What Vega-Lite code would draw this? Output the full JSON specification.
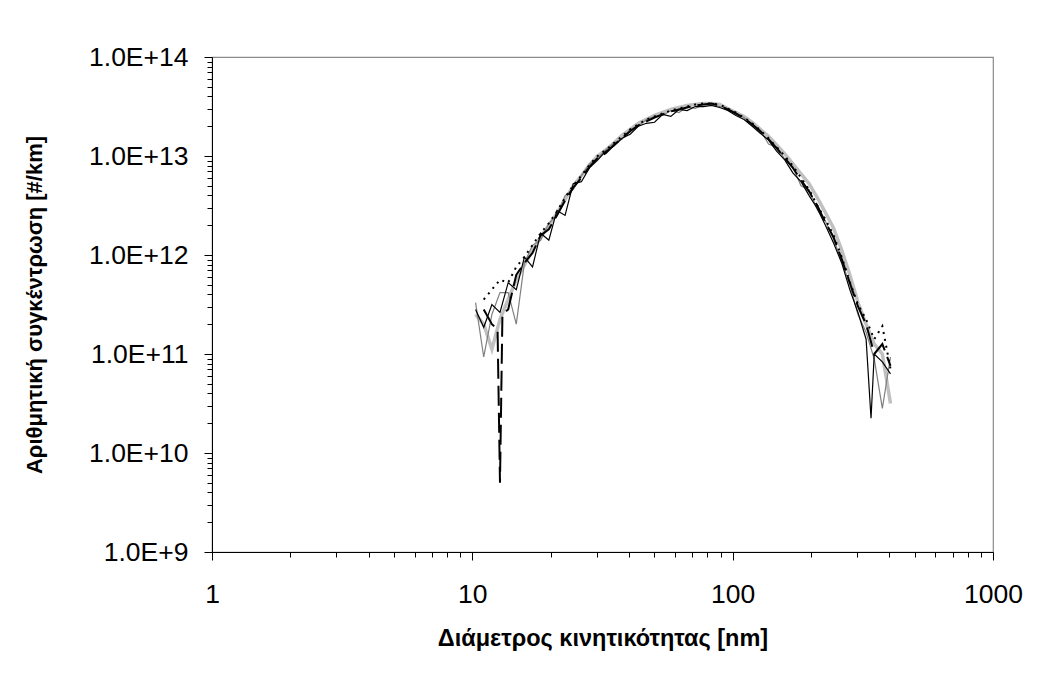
{
  "$schema": "https://vega.github.io/schema/vega-lite/v6.json",
  "width": 781,
  "height": 495,
  "autosize": {"type": "none"},
  "padding": {"left": 212, "top": 57, "right": 45, "bottom": 125},
  "background": "white",
  "data": {"values": [
    {"s":"A","d":10.29,"n":2.82e11},{"s":"A","d":11.06,"n":1.86e11},{"s":"A","d":11.89,"n":3.16e11},{"s":"A","d":12.77,"n":2.63e11},{"s":"A","d":13.73,"n":5.25e11},{"s":"A","d":14.75,"n":4.47e11},{"s":"A","d":15.85,"n":9.55e11},{"s":"A","d":17.03,"n":7.59e11},{"s":"A","d":18.30,"n":1.66e12},{"s":"A","d":19.67,"n":1.41e12},{"s":"A","d":21.13,"n":2.82e12},{"s":"A","d":22.71,"n":2.51e12},{"s":"A","d":24.41,"n":5.25e12},{"s":"A","d":26.23,"n":5.50e12},{"s":"A","d":28.18,"n":7.59e12},{"s":"A","d":30.29,"n":9.12e12},{"s":"A","d":32.55,"n":1.12e13},{"s":"A","d":34.98,"n":1.26e13},{"s":"A","d":37.58,"n":1.51e13},{"s":"A","d":40.39,"n":1.66e13},{"s":"A","d":43.40,"n":2.00e13},{"s":"A","d":46.64,"n":2.14e13},{"s":"A","d":50.12,"n":2.19e13},{"s":"A","d":53.86,"n":2.63e13},{"s":"A","d":57.88,"n":2.51e13},{"s":"A","d":62.20,"n":2.95e13},{"s":"A","d":66.83,"n":2.88e13},{"s":"A","d":71.82,"n":3.16e13},{"s":"A","d":77.18,"n":3.16e13},{"s":"A","d":82.94,"n":3.24e13},{"s":"A","d":89.13,"n":3.09e13},{"s":"A","d":95.78,"n":2.88e13},{"s":"A","d":102.9,"n":2.57e13},{"s":"A","d":110.6,"n":2.34e13},{"s":"A","d":118.9,"n":2.00e13},{"s":"A","d":127.7,"n":1.70e13},{"s":"A","d":137.3,"n":1.45e13},{"s":"A","d":147.5,"n":1.12e13},{"s":"A","d":158.5,"n":9.12e12},{"s":"A","d":170.3,"n":6.76e12},{"s":"A","d":183.0,"n":5.50e12},{"s":"A","d":196.7,"n":3.98e12},{"s":"A","d":211.3,"n":2.95e12},{"s":"A","d":227.1,"n":2.00e12},{"s":"A","d":244.1,"n":1.32e12},{"s":"A","d":262.3,"n":8.32e11},{"s":"A","d":281.8,"n":4.47e11},{"s":"A","d":302.9,"n":2.63e11},{"s":"A","d":325.5,"n":1.41e11},{"s":"A","d":340.0,"n":2.24e10},{"s":"A","d":349.8,"n":1.00e11},{"s":"A","d":375.8,"n":8.32e10},{"s":"A","d":403.9,"n":6.31e10},
    {"s":"B","d":10.29,"n":3.31e11},{"s":"B","d":11.06,"n":9.33e10},{"s":"B","d":11.89,"n":2.51e11},{"s":"B","d":12.77,"n":4.17e11},{"s":"B","d":13.73,"n":4.17e11},{"s":"B","d":14.75,"n":2.00e11},{"s":"B","d":15.85,"n":8.32e11},{"s":"B","d":17.03,"n":1.26e12},{"s":"B","d":18.30,"n":1.41e12},{"s":"B","d":19.67,"n":2.09e12},{"s":"B","d":21.13,"n":2.51e12},{"s":"B","d":22.71,"n":3.98e12},{"s":"B","d":24.41,"n":4.57e12},{"s":"B","d":26.23,"n":6.31e12},{"s":"B","d":28.18,"n":8.32e12},{"s":"B","d":30.29,"n":9.55e12},{"s":"B","d":32.55,"n":1.15e13},{"s":"B","d":34.98,"n":1.35e13},{"s":"B","d":37.58,"n":1.48e13},{"s":"B","d":40.39,"n":1.86e13},{"s":"B","d":43.40,"n":2.00e13},{"s":"B","d":46.64,"n":2.34e13},{"s":"B","d":50.12,"n":2.51e13},{"s":"B","d":53.86,"n":2.57e13},{"s":"B","d":57.88,"n":2.88e13},{"s":"B","d":62.20,"n":2.75e13},{"s":"B","d":66.83,"n":3.16e13},{"s":"B","d":71.82,"n":3.02e13},{"s":"B","d":77.18,"n":3.31e13},{"s":"B","d":82.94,"n":3.31e13},{"s":"B","d":89.13,"n":3.16e13},{"s":"B","d":95.78,"n":3.02e13},{"s":"B","d":102.9,"n":2.63e13},{"s":"B","d":110.6,"n":2.45e13},{"s":"B","d":118.9,"n":2.04e13},{"s":"B","d":127.7,"n":1.82e13},{"s":"B","d":137.3,"n":1.32e13},{"s":"B","d":147.5,"n":1.23e13},{"s":"B","d":158.5,"n":9.33e12},{"s":"B","d":170.3,"n":7.76e12},{"s":"B","d":183.0,"n":5.01e12},{"s":"B","d":196.7,"n":4.57e12},{"s":"B","d":211.3,"n":2.88e12},{"s":"B","d":227.1,"n":2.19e12},{"s":"B","d":244.1,"n":1.45e12},{"s":"B","d":262.3,"n":8.71e11},{"s":"B","d":281.8,"n":5.01e11},{"s":"B","d":302.9,"n":2.51e11},{"s":"B","d":325.5,"n":1.66e11},{"s":"B","d":349.8,"n":8.91e10},{"s":"B","d":375.8,"n":2.82e10},{"s":"B","d":403.9,"n":9.33e10},
    {"s":"C","d":10.29,"n":2.51e11},{"s":"C","d":11.06,"n":2.00e11},{"s":"C","d":11.89,"n":1.12e11},{"s":"C","d":12.77,"n":2.24e11},{"s":"C","d":13.73,"n":3.55e11},{"s":"C","d":14.75,"n":5.62e11},{"s":"C","d":15.85,"n":7.94e11},{"s":"C","d":17.03,"n":1.12e12},{"s":"C","d":18.30,"n":1.51e12},{"s":"C","d":19.67,"n":2.00e12},{"s":"C","d":21.13,"n":2.63e12},{"s":"C","d":22.71,"n":3.63e12},{"s":"C","d":24.41,"n":5.01e12},{"s":"C","d":26.23,"n":6.31e12},{"s":"C","d":28.18,"n":8.13e12},{"s":"C","d":30.29,"n":1.00e13},{"s":"C","d":32.55,"n":1.15e13},{"s":"C","d":34.98,"n":1.35e13},{"s":"C","d":37.58,"n":1.62e13},{"s":"C","d":40.39,"n":1.86e13},{"s":"C","d":43.40,"n":2.14e13},{"s":"C","d":46.64,"n":2.34e13},{"s":"C","d":50.12,"n":2.57e13},{"s":"C","d":53.86,"n":2.75e13},{"s":"C","d":57.88,"n":2.95e13},{"s":"C","d":62.20,"n":3.09e13},{"s":"C","d":66.83,"n":3.24e13},{"s":"C","d":71.82,"n":3.31e13},{"s":"C","d":77.18,"n":3.39e13},{"s":"C","d":82.94,"n":3.39e13},{"s":"C","d":89.13,"n":3.31e13},{"s":"C","d":95.78,"n":3.02e13},{"s":"C","d":102.9,"n":2.75e13},{"s":"C","d":110.6,"n":2.51e13},{"s":"C","d":118.9,"n":2.19e13},{"s":"C","d":127.7,"n":1.86e13},{"s":"C","d":137.3,"n":1.58e13},{"s":"C","d":147.5,"n":1.29e13},{"s":"C","d":158.5,"n":1.05e13},{"s":"C","d":170.3,"n":8.32e12},{"s":"C","d":183.0,"n":6.61e12},{"s":"C","d":196.7,"n":5.25e12},{"s":"C","d":211.3,"n":3.80e12},{"s":"C","d":227.1,"n":2.69e12},{"s":"C","d":244.1,"n":1.86e12},{"s":"C","d":262.3,"n":1.12e12},{"s":"C","d":281.8,"n":6.31e11},{"s":"C","d":302.9,"n":3.31e11},{"s":"C","d":325.5,"n":2.00e11},{"s":"C","d":349.8,"n":1.26e11},{"s":"C","d":375.8,"n":1.00e11},{"s":"C","d":403.9,"n":3.16e10},
    {"s":"D","d":11.06,"n":3.55e11},{"s":"D","d":11.89,"n":4.47e11},{"s":"D","d":12.77,"n":5.62e11},{"s":"D","d":13.73,"n":5.25e11},{"s":"D","d":14.75,"n":7.59e11},{"s":"D","d":15.85,"n":9.55e11},{"s":"D","d":17.03,"n":1.26e12},{"s":"D","d":18.30,"n":1.66e12},{"s":"D","d":19.67,"n":2.09e12},{"s":"D","d":21.13,"n":2.75e12},{"s":"D","d":22.71,"n":3.80e12},{"s":"D","d":24.41,"n":5.01e12},{"s":"D","d":26.23,"n":6.31e12},{"s":"D","d":28.18,"n":8.13e12},{"s":"D","d":30.29,"n":1.00e13},{"s":"D","d":32.55,"n":1.15e13},{"s":"D","d":34.98,"n":1.35e13},{"s":"D","d":37.58,"n":1.58e13},{"s":"D","d":40.39,"n":1.86e13},{"s":"D","d":43.40,"n":2.09e13},{"s":"D","d":46.64,"n":2.34e13},{"s":"D","d":50.12,"n":2.51e13},{"s":"D","d":53.86,"n":2.69e13},{"s":"D","d":57.88,"n":2.88e13},{"s":"D","d":62.20,"n":3.02e13},{"s":"D","d":66.83,"n":3.16e13},{"s":"D","d":71.82,"n":3.31e13},{"s":"D","d":77.18,"n":3.39e13},{"s":"D","d":82.94,"n":3.39e13},{"s":"D","d":89.13,"n":3.31e13},{"s":"D","d":95.78,"n":3.02e13},{"s":"D","d":102.9,"n":2.75e13},{"s":"D","d":110.6,"n":2.45e13},{"s":"D","d":118.9,"n":2.14e13},{"s":"D","d":127.7,"n":1.82e13},{"s":"D","d":137.3,"n":1.51e13},{"s":"D","d":147.5,"n":1.23e13},{"s":"D","d":158.5,"n":1.00e13},{"s":"D","d":170.3,"n":7.94e12},{"s":"D","d":183.0,"n":6.03e12},{"s":"D","d":196.7,"n":4.57e12},{"s":"D","d":211.3,"n":3.16e12},{"s":"D","d":227.1,"n":2.29e12},{"s":"D","d":244.1,"n":1.58e12},{"s":"D","d":262.3,"n":9.55e11},{"s":"D","d":281.8,"n":5.37e11},{"s":"D","d":302.9,"n":3.16e11},{"s":"D","d":325.5,"n":2.24e11},{"s":"D","d":349.8,"n":1.41e11},{"s":"D","d":375.8,"n":1.91e11},{"s":"D","d":403.9,"n":7.08e10},
    {"s":"E","d":11.06,"n":2.82e11},{"s":"E","d":11.89,"n":2.00e11},{"s":"E","d":12.50,"n":1.78e11},{"s":"E","d":12.77,"n":5.01e9},{"s":"E","d":13.05,"n":2.51e11},{"s":"E","d":13.73,"n":2.82e11},{"s":"E","d":14.75,"n":6.31e11},{"s":"E","d":15.85,"n":8.32e11},{"s":"E","d":17.03,"n":1.05e12},{"s":"E","d":18.30,"n":1.58e12},{"s":"E","d":19.67,"n":1.82e12},{"s":"E","d":21.13,"n":2.51e12},{"s":"E","d":22.71,"n":3.55e12},{"s":"E","d":24.41,"n":4.79e12},{"s":"E","d":26.23,"n":6.03e12},{"s":"E","d":28.18,"n":7.76e12},{"s":"E","d":30.29,"n":9.55e12},{"s":"E","d":32.55,"n":1.07e13},{"s":"E","d":34.98,"n":1.29e13},{"s":"E","d":37.58,"n":1.51e13},{"s":"E","d":40.39,"n":1.78e13},{"s":"E","d":43.40,"n":2.04e13},{"s":"E","d":46.64,"n":2.24e13},{"s":"E","d":50.12,"n":2.45e13},{"s":"E","d":53.86,"n":2.63e13},{"s":"E","d":57.88,"n":2.82e13},{"s":"E","d":62.20,"n":2.95e13},{"s":"E","d":66.83,"n":3.09e13},{"s":"E","d":71.82,"n":3.24e13},{"s":"E","d":77.18,"n":3.31e13},{"s":"E","d":82.94,"n":3.39e13},{"s":"E","d":89.13,"n":3.24e13},{"s":"E","d":95.78,"n":2.95e13},{"s":"E","d":102.9,"n":2.69e13},{"s":"E","d":110.6,"n":2.40e13},{"s":"E","d":118.9,"n":2.09e13},{"s":"E","d":127.7,"n":1.78e13},{"s":"E","d":137.3,"n":1.48e13},{"s":"E","d":147.5,"n":1.20e13},{"s":"E","d":158.5,"n":9.55e12},{"s":"E","d":170.3,"n":7.59e12},{"s":"E","d":183.0,"n":5.75e12},{"s":"E","d":196.7,"n":4.37e12},{"s":"E","d":211.3,"n":3.16e12},{"s":"E","d":227.1,"n":2.14e12},{"s":"E","d":244.1,"n":1.51e12},{"s":"E","d":262.3,"n":9.12e11},{"s":"E","d":281.8,"n":5.25e11},{"s":"E","d":302.9,"n":3.02e11},{"s":"E","d":325.5,"n":2.00e11},{"s":"E","d":349.8,"n":1.00e11},{"s":"E","d":375.8,"n":1.26e11},{"s":"E","d":403.9,"n":7.59e10}
  ]},
  "encoding": {
    "x": {"field": "d", "type": "quantitative", "scale": {"type": "log", "domain": [1, 1000], "nice": false}, "axis": null},
    "y": {"field": "n", "type": "quantitative", "scale": {"type": "log", "domain": [1e9, 1e14], "nice": false}, "axis": null}
  },
  "layer": [
    {
      "transform": [{"filter": "datum.s == 'C'"}],
      "mark": {"type": "line", "color": "#c0c0c0", "strokeWidth": 3.5},
      "encoding": {
        "x": {"field": "d", "type": "quantitative", "scale": {"type": "log", "domain": [1, 1000], "nice": false},
          "axis": {"orient": "bottom", "values": [1, 10, 100, 1000], "format": "d", "title": "Διάμετρος κινητικότητας [nm]",
            "domain": true, "domainColor": "black", "domainWidth": 1, "tickSize": 8, "tickColor": "black", "tickWidth": 1,
            "labelFontSize": 26.5, "labelPadding": 21, "labelFlush": false, "labelOverlap": false, "labelColor": "black",
            "titleFontSize": 23.5, "titleFontWeight": "bold", "titlePadding": 19, "titleColor": "black", "grid": false}},
        "y": {"field": "n", "type": "quantitative", "scale": {"type": "log", "domain": [1e9, 1e14], "nice": false},
          "axis": {"orient": "left", "values": [1e9, 1e10, 1e11, 1e12, 1e13, 1e14], "labelExpr": "upper(format(datum.value, '.1e'))",
            "title": "Αριθμητική συγκέντρωση [#/km]",
            "domain": true, "domainColor": "black", "domainWidth": 1, "tickSize": 8, "tickColor": "black", "tickWidth": 1,
            "labelFontSize": 26.5, "labelPadding": 16, "labelFlush": false, "labelOverlap": false, "labelColor": "black",
            "titleFontSize": 22, "titleFontWeight": "bold", "titlePadding": 42, "titleColor": "black", "grid": false}}
      }
    },
    {
      "transform": [{"filter": "datum.s == 'B'"}],
      "mark": {"type": "line", "color": "#808080", "strokeWidth": 1.2}
    },
    {
      "transform": [{"filter": "datum.s == 'E'"}],
      "mark": {"type": "line", "color": "black", "strokeWidth": 2, "strokeDash": [20, 7]}
    },
    {
      "transform": [{"filter": "datum.s == 'D'"}],
      "mark": {"type": "line", "color": "black", "strokeWidth": 2, "strokeDash": [2, 5]}
    },
    {
      "transform": [{"filter": "datum.s == 'A'"}],
      "mark": {"type": "line", "color": "black", "strokeWidth": 1.2}
    },
    {
      "mark": {"type": "point", "opacity": 0},
      "encoding": {
        "x": {"field": "d", "type": "quantitative", "scale": {"type": "log", "domain": [1, 1000], "nice": false},
          "axis": {"orient": "bottom", "values": [2,3,4,5,6,7,8,9,20,30,40,50,60,70,80,90,200,300,400,500,600,700,800,900],
            "labels": false, "domain": false, "tickSize": 5, "tickColor": "black", "tickWidth": 1, "title": null, "grid": false}},
        "y": {"field": "n", "type": "quantitative", "scale": {"type": "log", "domain": [1e9, 1e14], "nice": false},
          "axis": {"orient": "left", "values": [2e9,3e9,4e9,5e9,6e9,7e9,8e9,9e9,2e10,3e10,4e10,5e10,6e10,7e10,8e10,9e10,2e11,3e11,4e11,5e11,6e11,7e11,8e11,9e11,2e12,3e12,4e12,5e12,6e12,7e12,8e12,9e12,2e13,3e13,4e13,5e13,6e13,7e13,8e13,9e13],
            "labels": false, "domain": false, "tickSize": 5, "tickColor": "black", "tickWidth": 1, "title": null, "grid": false}}
      }
    }
  ],
  "resolve": {"axis": {"x": "independent", "y": "independent"}},
  "config": {
    "font": "Liberation Sans",
    "view": {"stroke": "#8a8a8a", "strokeWidth": 1.2},
    "axis": {"labelFont": "Liberation Sans", "titleFont": "Liberation Sans"}
  }
}
